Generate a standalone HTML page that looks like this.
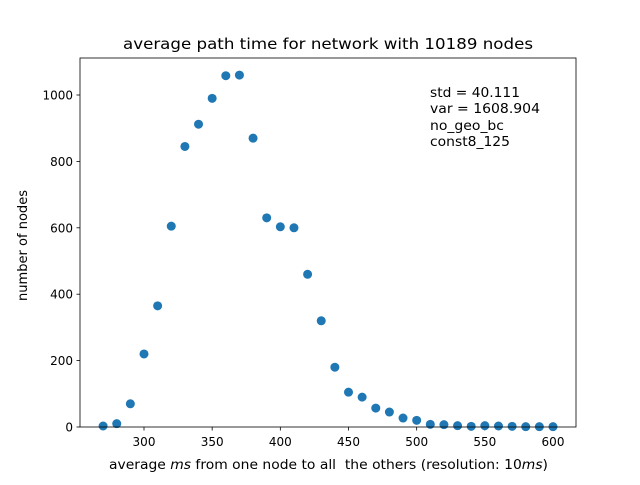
<!DOCTYPE html>
<html><head><meta charset="utf-8"><style>
body{margin:0;background:#fff}
text{font-family:"DejaVu Sans","Liberation Sans",sans-serif;fill:#000}
</style></head><body>
<svg id="chart" width="640" height="480" xmlns="http://www.w3.org/2000/svg">
<rect width="640" height="480" fill="#fff"/>
<text x="123" y="49" font-size="15" textLength="410" lengthAdjust="spacingAndGlyphs">average path time for network with 10189 nodes</text>
<g id="ticks"></g>
<g id="points"></g>
<rect x="80" y="58" width="496" height="369" fill="none" stroke="#000" stroke-width="0.8"/>
<text x="109" y="469" font-size="13" textLength="439" lengthAdjust="spacingAndGlyphs">average <tspan font-style="italic">ms</tspan> from one node to all &#160;the others (resolution: 10<tspan font-style="italic">ms</tspan>)</text>
<text transform="translate(27,301) rotate(-90)" font-size="13" textLength="111" lengthAdjust="spacingAndGlyphs">number of nodes</text>
<g font-size="13">
<text x="430" y="97" textLength="90" lengthAdjust="spacingAndGlyphs">std = 40.111</text>
<text x="430" y="113" textLength="110" lengthAdjust="spacingAndGlyphs">var = 1608.904</text>
<text x="430" y="130" textLength="74" lengthAdjust="spacingAndGlyphs">no_geo_bc</text>
<text x="430" y="146" textLength="80" lengthAdjust="spacingAndGlyphs">const8_125</text>
</g>
</svg>
<script>
const xValues=[270,280,290,300,310,320,330,340,350,360,370,380,390,400,410,420,430,440,450,460,470,480,490,500,510,520,530,540,550,560,570,580,590,600];
const yValues=[3,10,70,220,365,605,845,912,990,1058,1060,870,630,603,600,460,320,180,105,90,57,45,27,20,8,7,4,2,4,3,2,1,1,1];
const xTicks=[300,350,400,450,500,550,600];
const yTicks=[0,200,400,600,800,1000];
const NS="http://www.w3.org/2000/svg";
function sx(v){return 144+(v-300)*(409/300);}
function sy(v){return 427-v*0.332;}
const pts=document.getElementById('points');
xValues.forEach((x,i)=>{
 const c=document.createElementNS(NS,'circle');
 c.setAttribute('cx',sx(x));c.setAttribute('cy',sy(yValues[i]));c.setAttribute('r',4.5);c.setAttribute('fill','#1f77b4');
 
 
 pts.appendChild(c);
});
const tk=document.getElementById('ticks');
xTicks.forEach(t=>{
 const l=document.createElementNS(NS,'line');
 l.setAttribute('x1',sx(t));l.setAttribute('x2',sx(t));l.setAttribute('y1',427);l.setAttribute('y2',430.5);l.setAttribute('stroke','#000');l.setAttribute('stroke-width','0.8');
 
 
 tk.appendChild(l);
 const tx=document.createElementNS(NS,'text');
 tx.setAttribute('x',sx(t));tx.setAttribute('y',446);tx.setAttribute('font-size','12');tx.setAttribute('text-anchor','middle');tx.textContent=t;
 
 
 tk.appendChild(tx);
});
yTicks.forEach(t=>{
 const l=document.createElementNS(NS,'line');
 l.setAttribute('x1',76.5);l.setAttribute('x2',80);l.setAttribute('y1',sy(t));l.setAttribute('y2',sy(t));l.setAttribute('stroke','#000');l.setAttribute('stroke-width','0.8');
 
 
 tk.appendChild(l);
 const tx=document.createElementNS(NS,'text');
 tx.setAttribute('x',73);tx.setAttribute('y',sy(t)+4.5);tx.setAttribute('font-size','12');tx.setAttribute('text-anchor','end');tx.textContent=t;
 
 
 tk.appendChild(tx);
});
</script>
</body></html>
